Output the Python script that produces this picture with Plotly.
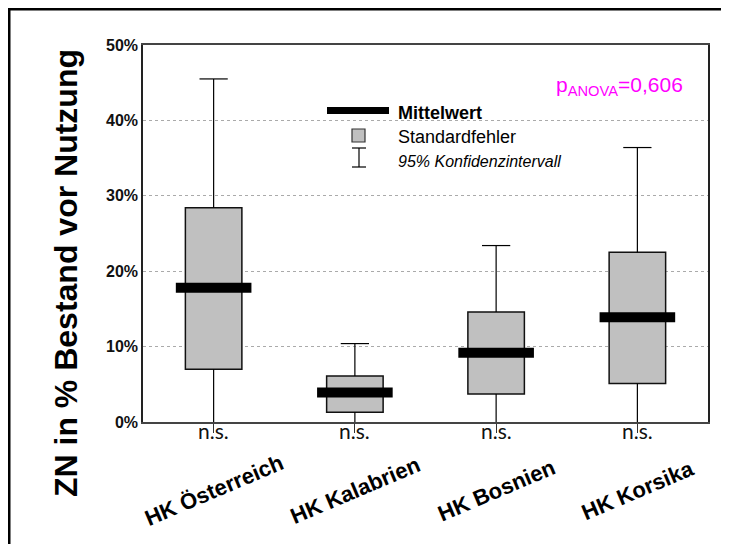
import plotly.graph_objects as go

# ---- data (values in %) ----
categories = ["HK Österreich", "HK Kalabrien", "HK Bosnien", "HK Korsika"]
mean_vals = [17.8, 3.9, 9.2, 13.9]
se_low = [7.0, 1.3, 3.7, 5.1]
se_high = [28.4, 6.1, 14.6, 22.5]
ci_low = [0.0, 0.0, 0.0, 0.0]
ci_high = [45.5, 10.4, 23.4, 36.4]
sig_labels = ["n.s.", "n.s.", "n.s.", "n.s."]
y_ticks = [0, 10, 20, 30, 40, 50]
y_tick_labels = ["0%", "10%", "20%", "30%", "40%", "50%"]
p_text = "p<sub>ANOVA</sub>=0,606"

xs = list(range(len(categories)))
FONT = "Liberation Sans"
CAP = 0.1

fig = go.Figure()

# standard error boxes
fig.add_trace(go.Bar(
    x=xs, y=[h - l for h, l in zip(se_high, se_low)], base=se_low, width=0.4,
    marker=dict(color="#C0C0C0", line=dict(color="#111111", width=1.5)),
    showlegend=False, hoverinfo="skip"))

# whiskers (95% CI)
wx, wy = [], []
for i in xs:
    wx += [i, i, None, i - CAP, i + CAP, None, i, i, None]
    wy += [se_high[i], ci_high[i], None, ci_high[i], ci_high[i], None, se_low[i], ci_low[i], None]
fig.add_trace(go.Scatter(x=wx, y=wy, mode="lines", line=dict(color="black", width=1.2),
                         showlegend=False, hoverinfo="skip", cliponaxis=False))

# means
fig.add_trace(go.Scatter(x=xs, y=mean_vals, mode="markers",
                         marker=dict(symbol="line-ew", size=54, line=dict(color="black", width=10)),
                         showlegend=False, hoverinfo="skip"))

# page body has an 8px margin: figure sized/offset accordingly
fig.update_layout(
    width=721, height=536,
    margin=dict(l=135, r=21, t=37, b=122),
    plot_bgcolor="white", paper_bgcolor="white",
    barmode="overlay", showlegend=False,
    xaxis=dict(range=[-0.5, 3.5], tickvals=xs, showticklabels=False,
               ticks="outside", ticklen=9, tickcolor="#333", tickwidth=1,
               showline=True, linecolor="#444", linewidth=1.5, mirror=True,
               showgrid=False, zeroline=False),
    yaxis=dict(range=[0, 50], tickvals=y_ticks, ticktext=y_tick_labels,
               tickfont=dict(family=FONT, size=16, color="#111", weight="bold"),
               ticks="", showline=True, linecolor="#222", linewidth=1.5, mirror=True,
               showgrid=True, gridcolor="#AAAAAA", griddash="dot", gridwidth=1,
               zeroline=False),
)

def px2x(px):
    return (px - 143) / 565

def py2y(py):
    return (422 - py) / 377

shapes = []
# outer frame
shapes.append(dict(type="rect", xref="paper", yref="paper", x0=px2x(9), x1=1.3,
                   y0=-0.5, y1=py2y(9), line=dict(color="black", width=3)))
# legend glyphs
shapes.append(dict(type="line", xref="paper", yref="paper", x0=px2x(327), x1=px2x(389),
                   y0=py2y(110.5), y1=py2y(110.5), line=dict(color="black", width=7)))
shapes.append(dict(type="rect", xref="paper", yref="paper", x0=px2x(352), x1=px2x(365),
                   y0=py2y(142), y1=py2y(129), fillcolor="#C0C0C0",
                   line=dict(color="#333", width=1.2)))
shapes.append(dict(type="line", xref="paper", yref="paper", x0=px2x(359), x1=px2x(359),
                   y0=py2y(148), y1=py2y(167), line=dict(color="black", width=1.2)))
shapes.append(dict(type="line", xref="paper", yref="paper", x0=px2x(352), x1=px2x(366),
                   y0=py2y(148), y1=py2y(148), line=dict(color="black", width=1.2)))
shapes.append(dict(type="line", xref="paper", yref="paper", x0=px2x(352), x1=px2x(366),
                   y0=py2y(167), y1=py2y(167), line=dict(color="black", width=1.2)))
fig.update_layout(shapes=shapes)

ann = []
ann.append(dict(text="<b>Mittelwert</b>", xref="paper", yref="paper", x=px2x(396), y=py2y(113),
                xanchor="left", yanchor="middle", showarrow=False,
                font=dict(family=FONT, size=18, color="black")))
ann.append(dict(text="Standardfehler", xref="paper", yref="paper", x=px2x(396), y=py2y(137),
                xanchor="left", yanchor="middle", showarrow=False,
                font=dict(family=FONT, size=18, color="black")))
ann.append(dict(text="<i>95% Konfidenzintervall</i>", xref="paper", yref="paper", x=px2x(396),
                y=py2y(161), xanchor="left", yanchor="middle", showarrow=False,
                font=dict(family=FONT, size=16, color="black")))
ann.append(dict(text=p_text, xref="paper", yref="paper", x=px2x(619), y=py2y(86),
                xanchor="center", yanchor="middle", showarrow=False,
                font=dict(family=FONT, size=21, color="#FF00FF")))
ann.append(dict(text="<b>ZN in % Bestand vor Nutzung</b>", xref="paper", yref="paper",
                x=px2x(66), y=py2y(273), xanchor="center", yanchor="middle", textangle=-90,
                showarrow=False, font=dict(family=FONT, size=32, color="black")))
for i, s in zip(xs, sig_labels):
    ann.append(dict(text=s, xref="x", yref="paper", x=i, y=py2y(430),
                    xanchor="center", yanchor="middle", showarrow=False,
                    font=dict(family="Lato", size=21, color="#111")))
for i, c in zip(xs, categories):
    ann.append(dict(text="<b>" + c + "</b>", xref="x", yref="paper", x=i, y=py2y(490),
                    xanchor="center", yanchor="middle", textangle=-23, showarrow=False,
                    font=dict(family=FONT, size=22, color="black")))
fig.update_layout(annotations=ann)

fig.write_html("out.html")
